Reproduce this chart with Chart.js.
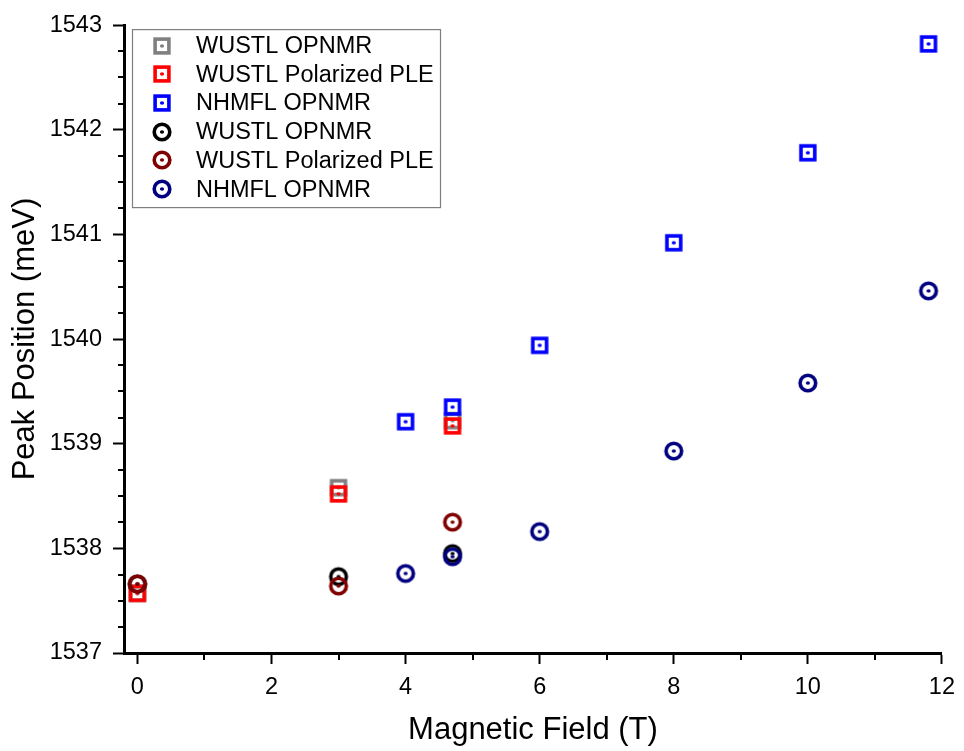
<!DOCTYPE html>
<html>
<head>
<meta charset="utf-8">
<script src="https://cdn.jsdelivr.net/npm/chart.js@4.4.1/dist/chart.umd.min.js"></script>
<style>
  html, body { margin: 0; padding: 0; background: #ffffff; }
  canvas { display: block; }
</style>
</head>
<body>
<canvas id="chart" width="964" height="751"></canvas>
<script>
// Axis ticks
const xTickValues = [0, 2, 4, 6, 8, 10, 12];
const xMinorTickValues = [1, 3, 5, 7, 9, 11];
const yTickValues = [1537, 1538, 1539, 1540, 1541, 1542, 1543];
const yMinorFractions = [0.25, 0.5, 0.75];

// Series labels
const seriesLabels = [
  'WUSTL OPNMR', 'WUSTL Polarized PLE', 'NHMFL OPNMR',
  'WUSTL OPNMR', 'WUSTL Polarized PLE', 'NHMFL OPNMR'
];

// Square markers (field in T, peak in meV)
const wustlOpnmrSqField = [0, 3, 4.7];
const wustlOpnmrSqPeak = [1537.57, 1538.58, 1539.22];
const wustlPleSqField = [0, 3, 4.7];
const wustlPleSqPeak = [1537.57, 1538.52, 1539.17];
const nhmflSqField = [4, 4.7, 6, 8, 10, 11.8];
const nhmflSqPeak = [1539.21, 1539.35, 1539.94, 1540.92, 1541.78, 1542.82];

// Circle markers
const wustlOpnmrCircField = [0, 3, 4.7];
const wustlOpnmrCircPeak = [1537.66, 1537.73, 1537.95];
const wustlPleCircField = [0, 3, 4.7];
const wustlPleCircPeak = [1537.66, 1537.64, 1538.25];
const nhmflCircField = [4, 4.7, 6, 8, 10, 11.8];
const nhmflCircPeak = [1537.76, 1537.92, 1538.16, 1538.93, 1539.58, 1540.46];

const seriesColors = ['#808080', '#ff0000', '#0000ff', '#000000', '#800000', '#000080'];

const FONT = "'Liberation Sans', Arial, Helvetica, sans-serif";

// Open square with a centre dot
function squareMarker(color) {
  const c = document.createElement('canvas');
  c.width = 22; c.height = 22;
  const g = c.getContext('2d');
  g.strokeStyle = color;
  g.lineWidth = 3.6;
  g.strokeRect(4.1, 4.1, 13.8, 13.8);
  g.fillStyle = color;
  g.beginPath(); g.ellipse(11, 11, 2.1, 1.7, 0, 0, Math.PI * 2); g.fill();
  return c;
}

// Open circle with a centre dot
function circleMarker(color) {
  const c = document.createElement('canvas');
  c.width = 22; c.height = 22;
  const g = c.getContext('2d');
  g.strokeStyle = color;
  g.lineWidth = 3.6;
  g.beginPath(); g.arc(11, 11, 7.8, 0, Math.PI * 2); g.stroke();
  g.fillStyle = color;
  g.beginPath(); g.ellipse(11, 11, 2.1, 1.7, 0, 0, Math.PI * 2); g.fill();
  return c;
}

function toPoints(xs, ys) {
  return xs.map((x, i) => ({ x: x, y: ys[i] }));
}

const seriesPoints = [
  toPoints(wustlOpnmrSqField, wustlOpnmrSqPeak),
  toPoints(wustlPleSqField, wustlPleSqPeak),
  toPoints(nhmflSqField, nhmflSqPeak),
  toPoints(wustlOpnmrCircField, wustlOpnmrCircPeak),
  toPoints(wustlPleCircField, wustlPleCircPeak),
  toPoints(nhmflCircField, nhmflCircPeak)
];

const datasets = seriesPoints.map((pts, i) => ({
  label: seriesLabels[i],
  data: pts,
  pointStyle: i < 3 ? squareMarker(seriesColors[i]) : circleMarker(seriesColors[i]),
  pointRadius: 9,
  showLine: false,
  borderColor: seriesColors[i],
  backgroundColor: seriesColors[i],
  order: seriesPoints.length - i   // later series sit on top
}));

// Short minor tick marks on both axes
const minorTicks = {
  id: 'minorTicks',
  afterDraw(chart) {
    const { ctx, chartArea } = chart;
    const xs = chart.scales.x, ys = chart.scales.y;
    ctx.save();
    ctx.strokeStyle = '#000';
    ctx.lineWidth = 2;
    ctx.beginPath();
    xMinorTickValues.forEach(v => {
      const px = Math.round(xs.getPixelForValue(v));
      ctx.moveTo(px, chartArea.bottom);
      ctx.lineTo(px, chartArea.bottom + 7);
    });
    yTickValues.slice(0, -1).forEach(base => {
      yMinorFractions.forEach(f => {
        const py = Math.round(ys.getPixelForValue(base + f));
        ctx.moveTo(chartArea.left, py);
        ctx.lineTo(chartArea.left - 6, py);
      });
    });
    ctx.stroke();
    ctx.restore();
  }
};

// Framed legend in the upper-left corner of the plot
const boxedLegend = {
  id: 'boxedLegend',
  afterDraw(chart) {
    const { ctx, chartArea } = chart;
    const left = chartArea.left + 8, top = chartArea.top + 4;
    const width = 308, height = 178;
    ctx.save();
    ctx.strokeStyle = '#7f7f7f';
    ctx.lineWidth = 1.2;
    ctx.strokeRect(left + 0.5, top + 0.5, width, height);
    ctx.font = '23.5px ' + FONT;
    ctx.fillStyle = '#000';
    ctx.textBaseline = 'middle';
    ctx.textAlign = 'left';
    chart.data.datasets.forEach((ds, i) => {
      const cy = top + 16.5 + i * 28.7;
      const img = ds.pointStyle;
      ctx.drawImage(img, left + 30 - img.width / 2, Math.round(cy) - img.height / 2);
      ctx.fillText(ds.label, left + 64, cy + 1);
    });
    ctx.restore();
  }
};

new Chart(document.getElementById('chart'), {
  type: 'scatter',
  data: { datasets: datasets },
  options: {
    responsive: false,
    animation: false,
    events: [],
    layout: { padding: { top: 18, right: 21, left: 0, bottom: 0 } },
    plugins: {
      legend: { display: false },
      tooltip: { enabled: false }
    },
    scales: {
      x: {
        type: 'linear',
        min: -0.2,
        max: 12,
        afterFit(scale) { scale.height = 98; },
        afterBuildTicks(scale) { scale.ticks = xTickValues.map(v => ({ value: v })); },
        grid: { drawOnChartArea: false, tickLength: 11, tickWidth: 2, tickColor: '#000' },
        border: { display: true, color: '#000', width: 3 },
        ticks: {
          color: '#000', font: { family: FONT, size: 23.5 }, padding: 9, maxRotation: 0,
          callback: v => String(v)
        },
        title: {
          display: true,
          text: 'Magnetic Field (T)',
          color: '#000',
          font: { family: FONT, size: 31 },
          padding: { top: 0, bottom: 2 }
        }
      },
      y: {
        type: 'linear',
        min: 1537,
        max: 1543,
        afterFit(scale) { scale.width = 124; },
        afterBuildTicks(scale) { scale.ticks = yTickValues.map(v => ({ value: v })); },
        grid: { drawOnChartArea: false, tickLength: 11, tickWidth: 2, tickColor: '#000' },
        border: { display: true, color: '#000', width: 3 },
        ticks: {
          color: '#000', font: { family: FONT, size: 23.5 }, padding: 11,
          callback: v => String(v)
        },
        title: {
          display: true,
          text: 'Peak Position (meV)',
          color: '#000',
          font: { family: FONT, size: 31 },
          padding: { top: 7, bottom: 0 }
        }
      }
    }
  },
  plugins: [minorTicks, boxedLegend]
});
</script>
</body>
</html>
